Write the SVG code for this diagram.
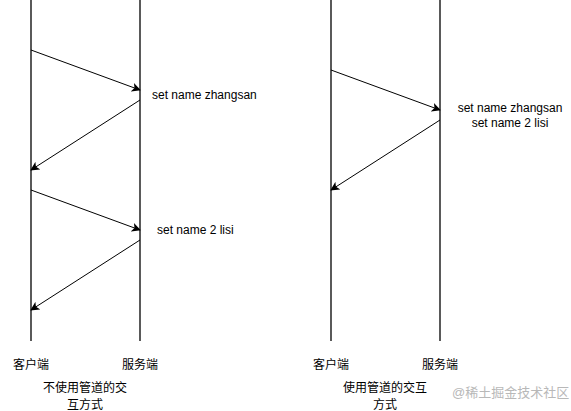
<svg xmlns="http://www.w3.org/2000/svg" width="571" height="411" viewBox="0 0 571 411">
<style>
.life{stroke:#000;stroke-width:1.3;fill:none}
.msg{stroke:#000;stroke-width:1;fill:none;marker-end:url(#ah)}
text{font-family:"Liberation Sans","Noto Sans CJK SC",sans-serif;font-size:12px;fill:#000}
.c{text-anchor:middle}
.wm{fill:#b8b8b8;font-size:13px}
</style>
<defs>
<marker id="ah" viewBox="0 0 10 10" refX="9" refY="5" markerWidth="9" markerHeight="9" markerUnits="userSpaceOnUse" orient="auto">
<path d="M0,0 L10,5 L0,10 L2.5,5 Z" fill="#000"/>
</marker>
</defs>
<rect width="571" height="411" fill="#fff"/>
<g id="client-left"><line class="life" x1="31" y1="0" x2="31" y2="341"/><text class="c" x="31" y="369">客户端</text></g>
<g id="server-left"><line class="life" x1="140" y1="0" x2="140" y2="341"/><text class="c" x="140" y="369">服务端</text></g>
<g id="client-right"><line class="life" x1="331" y1="0" x2="331" y2="341"/><text class="c" x="331" y="369">客户端</text></g>
<g id="server-right"><line class="life" x1="440" y1="0" x2="440" y2="341"/><text class="c" x="440" y="369">服务端</text></g>
<g id="connectors">
<line class="msg" x1="31" y1="50" x2="140" y2="90"/>
<line class="msg" x1="140" y1="100" x2="31" y2="170"/>
<line class="msg" x1="31" y1="190" x2="140" y2="230"/>
<line class="msg" x1="140" y1="240" x2="31" y2="310"/>
<line class="msg" x1="331" y1="70" x2="440" y2="110"/>
<line class="msg" x1="440" y1="120" x2="331" y2="190"/>
</g>
<g id="labels">
<text x="152" y="99">set name zhangsan</text>
<text x="157" y="234">set name 2 lisi</text>
<text class="c" x="510" y="112">set name zhangsan</text>
<text class="c" x="510" y="127">set name 2 lisi</text>
<text class="c" x="85" y="392">不使用管道的交</text>
<text class="c" x="85" y="409">互方式</text>
<text class="c" x="385" y="392">使用管道的交互</text>
<text class="c" x="385" y="409">方式</text>
<text class="wm" x="452" y="397">@稀土掘金技术社区</text>
</g>
</svg>
